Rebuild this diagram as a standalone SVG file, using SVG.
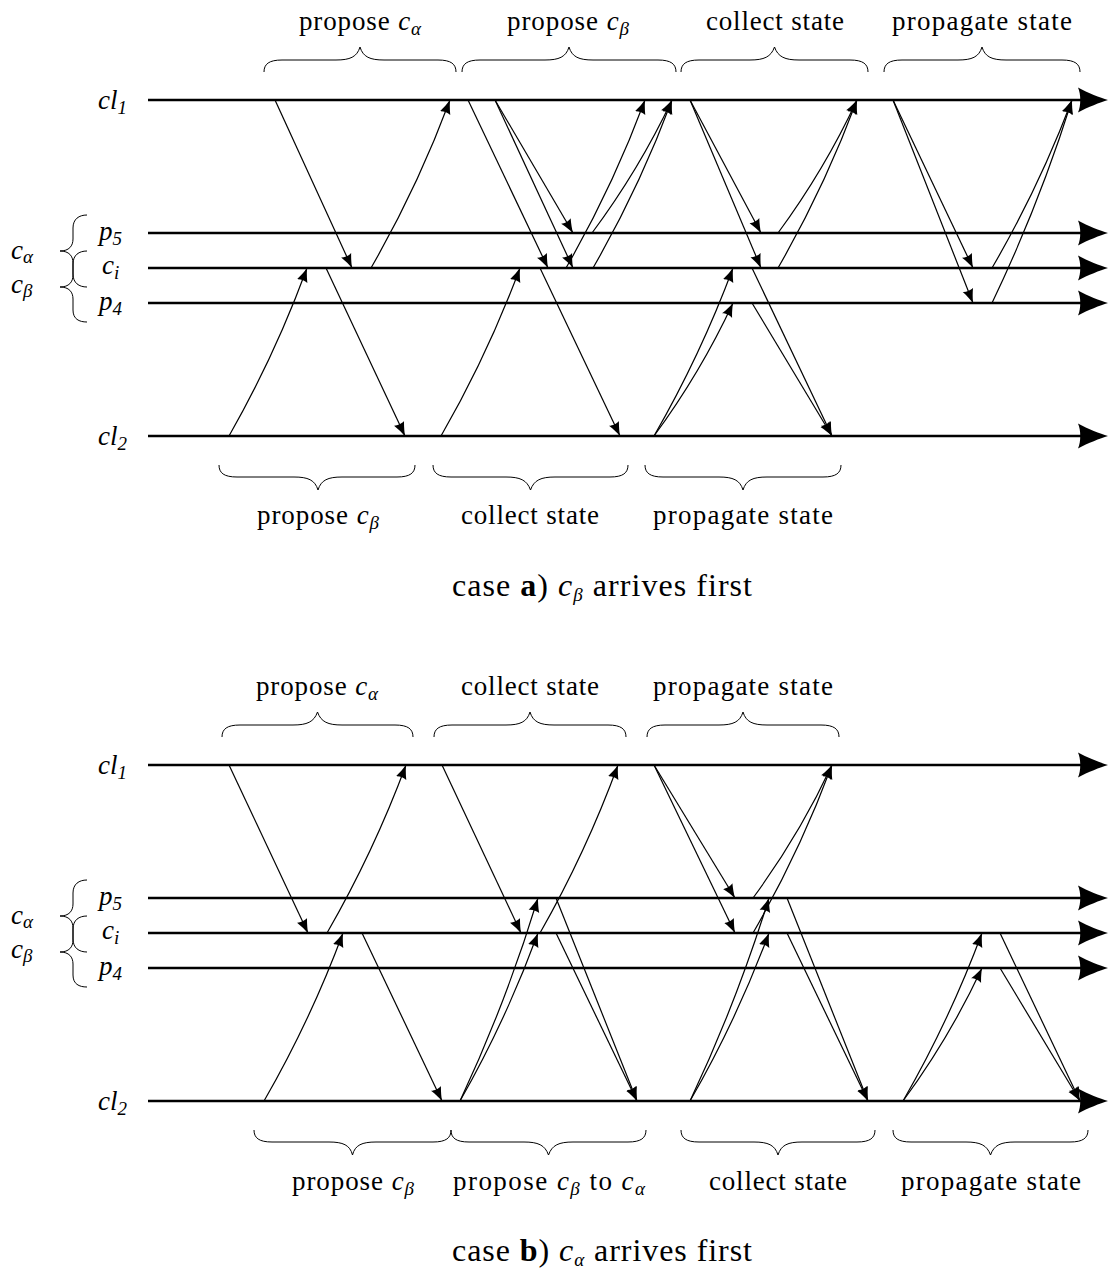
<svg xmlns="http://www.w3.org/2000/svg" width="1108" height="1271" viewBox="0 0 1108 1271">
  <style>
    .lane { stroke: #000; stroke-width: 2.4; fill: none; marker-end: url(#lane-head); }
    .msg { stroke: #000; stroke-width: 1.2; fill: none; marker-end: url(#msg-head); }
    .brace { stroke: #000; stroke-width: 1; fill: none; }
    text { font-family: "Liberation Serif", "Times New Roman", serif; fill: #000; }
    .lbl { font-size: 27px; text-anchor: middle; }
    .cap { font-size: 32px; text-anchor: middle; }
    .proc { font-size: 27px; font-style: italic; }
    .it { font-style: italic; }
    .sub { font-size: 19px; font-style: italic; }
  </style>
  <defs>
    <marker id="lane-head" markerUnits="userSpaceOnUse" viewBox="0 -13 31 26" markerWidth="31" markerHeight="26" refX="3" refY="0" orient="auto">
      <path d="M30,0 C22,-2.5 10,-7 0,-12.5 C3,-6 3,6 0,12.5 C10,7 22,2.5 30,0 Z" fill="#000"/>
    </marker>
    <marker id="msg-head" markerUnits="userSpaceOnUse" viewBox="0 -6 14 12" markerWidth="14" markerHeight="12" refX="14" refY="0" orient="auto">
      <path d="M14,0 C10,-1.2 5,-3 0,-5.5 C1.5,-2.5 1.5,2.5 0,5.5 C5,3 10,1.2 14,0 Z" fill="#000"/>
    </marker>
  </defs>

  <!-- ===================== case a ===================== -->
  <g id="case-a">
    <g id="a-cl1"><path class="lane" d="M148,100 H1081"/><text class="proc" x="127" y="109" text-anchor="end">cl<tspan class="sub" font-style="normal" dy="5">1</tspan></text></g>
    <g id="a-p5"><path class="lane" d="M148,233 H1081"/><text class="proc" x="99" y="239.5">p<tspan class="sub" font-style="normal" dy="5">5</tspan></text></g>
    <g id="a-ci"><path class="lane" d="M148,268 H1081"/><text class="proc" x="102" y="274">c<tspan class="sub" dy="5">i</tspan></text></g>
    <g id="a-p4"><path class="lane" d="M148,303 H1081"/><text class="proc" x="99" y="309.5">p<tspan class="sub" font-style="normal" dy="5">4</tspan></text></g>
    <g id="a-cl2"><path class="lane" d="M148,436 H1081"/><text class="proc" x="127" y="445" text-anchor="end">cl<tspan class="sub" font-style="normal" dy="5">2</tspan></text></g>

    <g id="a-groups">
      <path class="brace" d="M87,215 C79,215 73,219 73,228 L73,239 C73,246 69,251 60,251 C69,251 73,256 73,263 L73,274 C73,283 79,287 87,287"/>
      <path class="brace" d="M87,251 C79,251 73,255 73,264 L73,275 C73,282 69,287 60,287 C69,287 73,292 73,299 L73,310 C73,319 79,322 87,322"/>
      <text class="proc" x="11" y="259">c<tspan class="sub" dy="4">α</tspan></text>
      <text class="proc" x="11" y="293">c<tspan class="sub" dy="4">β</tspan></text>
    </g>

    <g id="a-connectors">
      <!-- propose c_alpha -->
      <path class="msg" d="M275,100 L352,268"/>
      <path class="msg" d="M371,268 Q417.5,187.3 450,100"/>
      <!-- propose c_beta (cl2) -->
      <path class="msg" d="M229,436 Q275,355.3 307,268"/>
      <path class="msg" d="M326,268 L405,436"/>
      <!-- propose c_beta (cl1) -->
      <path class="msg" d="M468,100 L548,268"/>
      <path class="msg" d="M495,100 L573,233"/>
      <path class="msg" d="M495,100 L573,268"/>
      <path class="msg" d="M566,268 Q612.5,187.3 645,100"/>
      <path class="msg" d="M592,233 Q639,169.8 672,100"/>
      <path class="msg" d="M593,268 Q639.5,187.3 672,100"/>
      <!-- collect state (cl2) -->
      <path class="msg" d="M441,436 Q487.5,355.3 520,268"/>
      <path class="msg" d="M540,268 L620,436"/>
      <!-- collect state (cl1) -->
      <path class="msg" d="M690,100 L761,233"/>
      <path class="msg" d="M690,100 L761,268"/>
      <path class="msg" d="M778,233 Q824.5,169.8 857,100"/>
      <path class="msg" d="M778,268 Q824.5,187.3 857,100"/>
      <!-- propagate state (cl2) -->
      <path class="msg" d="M654,436 Q700.5,355.3 733,268"/>
      <path class="msg" d="M654,436 Q700.5,372.8 733,303"/>
      <path class="msg" d="M752,268 L832,436"/>
      <path class="msg" d="M752,303 L832,436"/>
      <!-- propagate state (cl1) -->
      <path class="msg" d="M893,100 L973,268"/>
      <path class="msg" d="M893,100 L973,303"/>
      <path class="msg" d="M992,268 Q1039,187.3 1072,100"/>
      <path class="msg" d="M992,303 Q1039,204.8 1072,100"/>
    </g>

    <g id="a-phases-top">
      <path class="brace" d="M264,72 C264,64 269,60 282,60 L336,60 C350,60 357,57 360,47 C363,57 370,60 384,60 L438,60 C451,60 456,64 456,72"/>
      <path class="brace" d="M462,72 C462,64 467,60 480,60 L545,60 C559,60 566,57 569,47 C572,57 579,60 593,60 L658,60 C671,60 676,64 676,72"/>
      <path class="brace" d="M681,72 C681,64 686,60 699,60 L750,60 C764,60 771,57 774.5,47 C778,57 785,60 799,60 L850,60 C863,60 868,64 868,72"/>
      <path class="brace" d="M884,72 C884,64 889,60 902,60 L958,60 C972,60 979,57 982,47 C985,57 992,60 1006,60 L1062,60 C1075,60 1080,64 1080,72"/>
      <text class="lbl" x="360" y="30" textLength="122">propose <tspan class="it">c</tspan><tspan class="sub" dy="5">α</tspan></text>
      <text class="lbl" x="568" y="30" textLength="122">propose <tspan class="it">c</tspan><tspan class="sub" dy="5">β</tspan></text>
      <text class="lbl" x="775" y="30" textLength="138">collect state</text>
      <text class="lbl" x="982" y="30" textLength="180">propagate state</text>
    </g>

    <g id="a-phases-bottom">
      <path class="brace" d="M219,465 C219,473 224,477 237,477 L294,477 C308,477 315,480 318,490 C321,480 328,477 342,477 L397,477 C410,477 415,473 415,465"/>
      <path class="brace" d="M433,465 C433,473 438,477 451,477 L506,477 C520,477 527,480 530.5,490 C534,480 541,477 555,477 L610,477 C623,477 628,473 628,465"/>
      <path class="brace" d="M645,465 C645,473 650,477 663,477 L719,477 C733,477 740,480 743,490 C746,480 753,477 767,477 L823,477 C836,477 841,473 841,465"/>
      <text class="lbl" x="318" y="524" textLength="122">propose <tspan class="it">c</tspan><tspan class="sub" dy="5">β</tspan></text>
      <text class="lbl" x="530" y="524" textLength="138">collect state</text>
      <text class="lbl" x="743" y="524" textLength="180">propagate state</text>
    </g>

    <text id="a-caption" class="cap" x="602" y="596" textLength="300">case <tspan font-weight="bold">a</tspan>) <tspan class="it">c</tspan><tspan class="sub" font-size="22" dy="5">β</tspan><tspan dy="-5"> arrives first</tspan></text>
  </g>

  <!-- ===================== case b ===================== -->
  <g id="case-b">
    <g id="b-cl1"><path class="lane" d="M148,765 H1081"/><text class="proc" x="127" y="774" text-anchor="end">cl<tspan class="sub" font-style="normal" dy="5">1</tspan></text></g>
    <g id="b-p5"><path class="lane" d="M148,898 H1081"/><text class="proc" x="99" y="904.5">p<tspan class="sub" font-style="normal" dy="5">5</tspan></text></g>
    <g id="b-ci"><path class="lane" d="M148,933 H1081"/><text class="proc" x="102" y="939">c<tspan class="sub" dy="5">i</tspan></text></g>
    <g id="b-p4"><path class="lane" d="M148,968 H1081"/><text class="proc" x="99" y="974.5">p<tspan class="sub" font-style="normal" dy="5">4</tspan></text></g>
    <g id="b-cl2"><path class="lane" d="M148,1101 H1081"/><text class="proc" x="127" y="1110" text-anchor="end">cl<tspan class="sub" font-style="normal" dy="5">2</tspan></text></g>

    <g id="b-groups">
      <path class="brace" d="M87,880 C79,880 73,884 73,893 L73,904 C73,911 69,916 60,916 C69,916 73,921 73,928 L73,939 C73,948 79,952 87,952"/>
      <path class="brace" d="M87,916 C79,916 73,920 73,929 L73,940 C73,947 69,952 60,952 C69,952 73,957 73,964 L73,975 C73,984 79,987 87,987"/>
      <text class="proc" x="11" y="924">c<tspan class="sub" dy="4">α</tspan></text>
      <text class="proc" x="11" y="958">c<tspan class="sub" dy="4">β</tspan></text>
    </g>

    <g id="b-connectors">
      <!-- propose c_alpha (cl1) -->
      <path class="msg" d="M229,765 L308,933"/>
      <path class="msg" d="M327,933 Q373.5,852.3 406,765"/>
      <!-- propose c_beta (cl2) -->
      <path class="msg" d="M264,1101 Q310.5,1020.3 343,933"/>
      <path class="msg" d="M362,933 L442,1101"/>
      <!-- collect state (cl1) -->
      <path class="msg" d="M442,765 L521,933"/>
      <path class="msg" d="M540,933 Q586,852.3 618,765"/>
      <!-- propose c_beta to c_alpha (cl2) -->
      <path class="msg" d="M460,1101 Q506,1002.8 538,898"/>
      <path class="msg" d="M460,1101 Q506,1020.3 538,933"/>
      <path class="msg" d="M556,898 L637,1101"/>
      <path class="msg" d="M556,933 L637,1101"/>
      <!-- propagate state (cl1) -->
      <path class="msg" d="M654,765 L735,898"/>
      <path class="msg" d="M654,765 L735,933"/>
      <path class="msg" d="M753,898 Q799.5,834.8 832,765"/>
      <path class="msg" d="M753,933 Q799.5,852.3 832,765"/>
      <!-- collect state (cl2) -->
      <path class="msg" d="M690,1101 Q736.5,1002.8 769,898"/>
      <path class="msg" d="M690,1101 Q736.5,1020.3 769,933"/>
      <path class="msg" d="M787,898 L868,1101"/>
      <path class="msg" d="M787,933 L868,1101"/>
      <!-- propagate state (cl2) -->
      <path class="msg" d="M903,1101 Q949.5,1020.3 982,933"/>
      <path class="msg" d="M903,1101 Q949.5,1037.8 982,968"/>
      <path class="msg" d="M1000,933 L1080,1101"/>
      <path class="msg" d="M1000,968 L1080,1101"/>
    </g>

    <g id="b-phases-top">
      <path class="brace" d="M222,737 C222,729 227,725 240,725 L293,725 C307,725 314,722 317.5,712 C321,722 328,725 342,725 L395,725 C408,725 413,729 413,737"/>
      <path class="brace" d="M434,737 C434,729 439,725 452,725 L506,725 C520,725 527,722 530,712 C533,722 540,725 554,725 L608,725 C621,725 626,729 626,737"/>
      <path class="brace" d="M647,737 C647,729 652,725 665,725 L719,725 C733,725 740,722 743,712 C746,722 753,725 767,725 L821,725 C834,725 839,729 839,737"/>
      <text class="lbl" x="317" y="695" textLength="122">propose <tspan class="it">c</tspan><tspan class="sub" dy="5">α</tspan></text>
      <text class="lbl" x="530" y="695" textLength="138">collect state</text>
      <text class="lbl" x="743" y="695" textLength="180">propagate state</text>
    </g>

    <g id="b-phases-bottom">
      <path class="brace" d="M254,1130 C254,1138 259,1142 272,1142 L329,1142 C343,1142 350,1145 352.5,1155 C355,1145 362,1142 376,1142 L433,1142 C446,1142 451,1138 451,1130"/>
      <path class="brace" d="M451,1130 C451,1138 456,1142 469,1142 L524,1142 C538,1142 545,1145 548.5,1155 C552,1145 559,1142 573,1142 L628,1142 C641,1142 646,1138 646,1130"/>
      <path class="brace" d="M681,1130 C681,1138 686,1142 699,1142 L754,1142 C768,1142 775,1145 778,1155 C781,1145 788,1142 802,1142 L857,1142 C870,1142 875,1138 875,1130"/>
      <path class="brace" d="M893,1130 C893,1138 898,1142 911,1142 L966,1142 C980,1142 987,1145 990.5,1155 C994,1145 1001,1142 1015,1142 L1070,1142 C1083,1142 1088,1138 1088,1130"/>
      <text class="lbl" x="353" y="1190" textLength="122">propose <tspan class="it">c</tspan><tspan class="sub" dy="5">β</tspan></text>
      <text class="lbl" x="549" y="1190" textLength="192">propose <tspan class="it">c</tspan><tspan class="sub" dy="5">β</tspan><tspan dy="-5"> to </tspan><tspan class="it">c</tspan><tspan class="sub" dy="5">α</tspan></text>
      <text class="lbl" x="778" y="1190" textLength="138">collect state</text>
      <text class="lbl" x="991" y="1190" textLength="180">propagate state</text>
    </g>

    <text id="b-caption" class="cap" x="602" y="1261" textLength="300">case <tspan font-weight="bold">b</tspan>) <tspan class="it">c</tspan><tspan class="sub" font-size="22" dy="5">α</tspan><tspan dy="-5"> arrives first</tspan></text>
  </g>
</svg>
